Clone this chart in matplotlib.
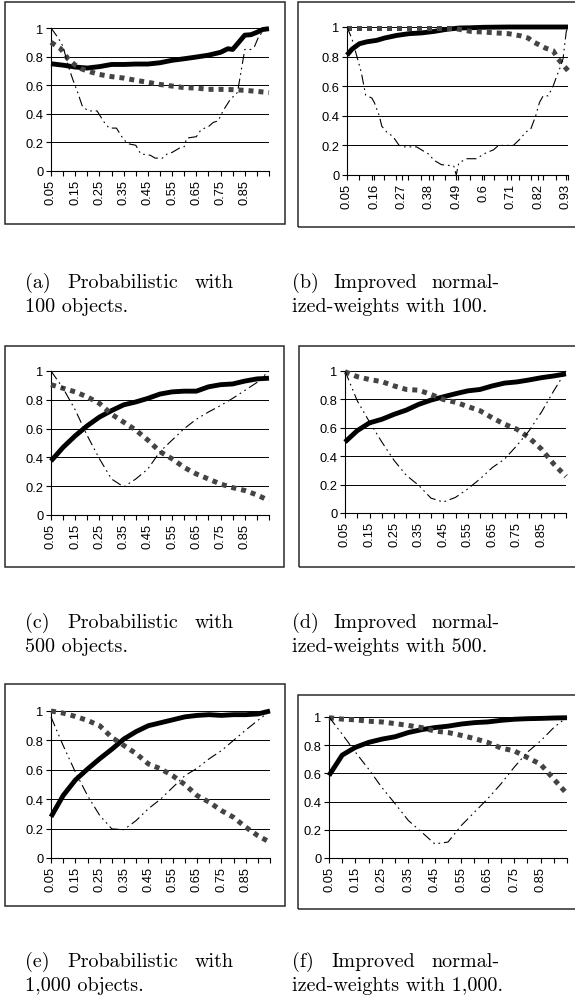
import matplotlib
matplotlib.use("Agg")
import matplotlib.pyplot as plt
from matplotlib.patches import Rectangle
import numpy as np

plt.rcParams['font.family'] = ['Liberation Sans', 'DejaVu Sans']

# ---------------- data ----------------
Y_TICKS = [0, 0.2, 0.4, 0.6, 0.8, 1.0]
Y_LABELS = ["0", "0.2", "0.4", "0.6", "0.8", "1"]

X_MAJOR_STD = [0.05, 0.15, 0.25, 0.35, 0.45, 0.55, 0.65, 0.75, 0.85]
X_LABELS_STD = ["0.05", "0.15", "0.25", "0.35", "0.45", "0.55", "0.65", "0.75", "0.85"]
X_MINOR_STD = [0.05, 0.10, 0.15, 0.20, 0.25, 0.30, 0.35, 0.40, 0.45, 0.50,
               0.55, 0.60, 0.65, 0.70, 0.75, 0.80, 0.85, 0.90, 0.95]

X_MAJOR_B = [0.05, 0.16, 0.27, 0.38, 0.49, 0.60, 0.71, 0.82, 0.93]
X_LABELS_B = ["0.05", "0.16", "0.27", "0.38", "0.49", "0.6", "0.71", "0.82", "0.93"]

X_STD = [0.05, 0.10, 0.15, 0.20, 0.25, 0.30, 0.35, 0.40, 0.45, 0.50,
         0.55, 0.60, 0.65, 0.70, 0.75, 0.80, 0.85, 0.90, 0.95]

# (a) Probabilistic, 100 objects
a_solid_x = [0.05, 0.10, 0.15, 0.20, 0.25, 0.30, 0.35, 0.40, 0.45, 0.50, 0.55, 0.60,
             0.65, 0.70, 0.75, 0.78, 0.80, 0.825, 0.85, 0.875, 0.90, 0.925, 0.95]
a_solid_y = [0.75, 0.74, 0.727, 0.72, 0.73, 0.745, 0.745, 0.748, 0.748, 0.757, 0.774, 0.785,
             0.797, 0.81, 0.83, 0.855, 0.85, 0.90, 0.95, 0.953, 0.97, 0.99, 0.995]
a_gray_x = [0.05, 0.09, 0.12, 0.15, 0.175, 0.20, 0.25, 0.30, 0.35, 0.40, 0.45, 0.50,
            0.55, 0.60, 0.65, 0.70, 0.75, 0.80, 0.85, 0.90, 0.95]
a_gray_y = [0.90, 0.855, 0.785, 0.74, 0.715, 0.70, 0.675, 0.66, 0.65, 0.634, 0.62, 0.605,
            0.594, 0.583, 0.58, 0.571, 0.571, 0.569, 0.564, 0.557, 0.548]
a_dd_x = [0.05, 0.08, 0.10, 0.12, 0.14, 0.16, 0.18, 0.205, 0.24, 0.27, 0.29, 0.32, 0.35,
          0.37, 0.40, 0.42, 0.46, 0.48, 0.51, 0.53, 0.55, 0.58, 0.60, 0.61, 0.65, 0.67,
          0.70, 0.72, 0.74, 0.76, 0.79, 0.82, 0.835, 0.85, 0.875, 0.89, 0.91, 0.95]
a_dd_y = [1.0, 0.93, 0.87, 0.74, 0.64, 0.55, 0.45, 0.42, 0.42, 0.34, 0.30, 0.30, 0.22,
          0.19, 0.18, 0.12, 0.11, 0.09, 0.09, 0.12, 0.13, 0.16, 0.17, 0.23, 0.24, 0.29,
          0.31, 0.34, 0.35, 0.42, 0.50, 0.55, 0.70, 0.85, 0.85, 0.87, 0.95, 1.0]

# (b) Improved normalized-weights, 100 objects
b_solid_x = [0.05, 0.07, 0.10, 0.13, 0.17, 0.20, 0.25, 0.30, 0.35, 0.40, 0.45, 0.50,
             0.55, 0.60, 0.70, 0.80, 0.94]
b_solid_y = [0.81, 0.85, 0.887, 0.90, 0.91, 0.925, 0.943, 0.955, 0.96, 0.97, 0.984, 0.993,
             0.995, 0.998, 1.0, 1.0, 1.0]
b_gray_x = [0.05, 0.10, 0.20, 0.30, 0.40, 0.48, 0.50, 0.55, 0.60, 0.65, 0.70, 0.75,
            0.78, 0.80, 0.85, 0.88, 0.90, 0.94]
b_gray_y = [0.99, 0.99, 0.99, 0.99, 0.99, 0.99, 0.985, 0.97, 0.966, 0.96, 0.955, 0.94,
            0.925, 0.90, 0.857, 0.84, 0.785, 0.705]
b_dd_x = [0.05, 0.07, 0.09, 0.108, 0.125, 0.15, 0.16, 0.18, 0.19, 0.21, 0.235, 0.26,
          0.28, 0.33, 0.36, 0.38, 0.40, 0.43, 0.46, 0.48, 0.49, 0.50, 0.53, 0.57, 0.61,
          0.64, 0.66, 0.72, 0.745, 0.77, 0.79, 0.81, 0.825, 0.84, 0.86, 0.88, 0.895,
          0.905, 0.92, 0.933, 0.94]
b_dd_y = [1.0, 0.92, 0.80, 0.69, 0.54, 0.52, 0.49, 0.40, 0.33, 0.29, 0.26, 0.20,
          0.19, 0.19, 0.16, 0.14, 0.10, 0.07, 0.065, 0.06, 0.0, 0.08, 0.11, 0.11, 0.15,
          0.17, 0.20, 0.20, 0.24, 0.29, 0.31, 0.40, 0.49, 0.535, 0.535, 0.60, 0.67,
          0.71, 0.785, 0.97, 1.0]

# (c) Probabilistic, 500 objects
c_solid = [0.375, 0.47, 0.55, 0.62, 0.68, 0.725, 0.765, 0.785, 0.81, 0.84,
           0.855, 0.86, 0.86, 0.89, 0.905, 0.91, 0.93, 0.945, 0.95]
c_gray = [0.905, 0.88, 0.855, 0.82, 0.775, 0.70, 0.645, 0.59, 0.52, 0.44,
          0.39, 0.33, 0.285, 0.25, 0.215, 0.19, 0.17, 0.14, 0.10]
c_dd = [1.0, 0.88, 0.73, 0.55, 0.39, 0.25, 0.195, 0.25, 0.32, 0.44,
        0.52, 0.60, 0.665, 0.715, 0.76, 0.81, 0.865, 0.92, 1.0]

# (d) Improved normalized-weights, 500 objects
d_solid = [0.50, 0.58, 0.635, 0.66, 0.695, 0.725, 0.765, 0.795, 0.818, 0.84,
           0.86, 0.87, 0.895, 0.915, 0.923, 0.937, 0.953, 0.965, 0.98]
d_gray = [0.995, 0.96, 0.94, 0.925, 0.895, 0.87, 0.865, 0.835, 0.80, 0.78,
          0.75, 0.72, 0.67, 0.625, 0.59, 0.53, 0.45, 0.345, 0.257]
d_dd = [1.0, 0.79, 0.64, 0.50, 0.37, 0.265, 0.195, 0.105, 0.077, 0.11,
        0.17, 0.24, 0.32, 0.38, 0.475, 0.58, 0.71, 0.86, 1.0]

# (e) Probabilistic, 1,000 objects
e_solid = [0.28, 0.425, 0.53, 0.605, 0.675, 0.74, 0.81, 0.86, 0.90, 0.92,
           0.94, 0.96, 0.97, 0.975, 0.97, 0.975, 0.975, 0.98, 1.0]
e_gray = [1.0, 0.986, 0.963, 0.936, 0.90, 0.82, 0.765, 0.71, 0.64, 0.607,
          0.56, 0.50, 0.425, 0.38, 0.323, 0.277, 0.21, 0.152, 0.107]
e_dd = [0.96, 0.765, 0.585, 0.425, 0.29, 0.198, 0.193, 0.255, 0.335, 0.40,
        0.48, 0.56, 0.61, 0.675, 0.73, 0.80, 0.87, 0.936, 1.0]

# (f) Improved normalized-weights, 1,000 objects
f_solid = [0.585, 0.73, 0.785, 0.82, 0.843, 0.86, 0.89, 0.91, 0.925, 0.935,
           0.95, 0.96, 0.965, 0.976, 0.984, 0.988, 0.99, 0.993, 0.995]
f_gray = [0.995, 0.985, 0.98, 0.97, 0.965, 0.953, 0.94, 0.925, 0.90, 0.89,
          0.87, 0.847, 0.82, 0.78, 0.76, 0.713, 0.665, 0.56, 0.455]
f_dd = [1.0, 0.878, 0.75, 0.63, 0.50, 0.385, 0.266, 0.184, 0.10, 0.113,
        0.23, 0.325, 0.42, 0.525, 0.643, 0.75, 0.83, 0.925, 1.0]

CAPTIONS = [
    ("(a)", "Probabilistic", "with", "100 objects."),
    ("(b)", "Improved", "normal-", "ized-weights with 100."),
    ("(c)", "Probabilistic", "with", "500 objects."),
    ("(d)", "Improved", "normal-", "ized-weights with 500."),
    ("(e)", "Probabilistic", "with", "1,000 objects."),
    ("(f)", "Improved", "normal-", "ized-weights with 1,000."),
]

# ---------------- layout ----------------
W, H = 575, 1003
fig = plt.figure(figsize=(W / 100, H / 100), dpi=100)

def fx(px):
    return px / W

def fy(py):
    return 1 - py / H

def make_ax(x0, x1, y0, y1):
    return fig.add_axes([fx(x0), fy(y1), fx(x1 - x0), (y1 - y0) / H])

def box(x0, y0, x1, y1):
    fig.patches.append(Rectangle((fx(x0), fy(y1)), fx(x1 - x0), (y1 - y0) / H,
                                 transform=fig.transFigure, fill=False,
                                 edgecolor='#2a2a2a', lw=1.1))

def style(ax, xmax, majors, labels, minors):
    ax.set_xlim(0.05, xmax)
    ax.set_ylim(0, 1)
    ax.set_yticks(Y_TICKS)
    ax.set_yticklabels(Y_LABELS)
    ax.set_xticks(majors)
    ax.set_xticklabels(labels, rotation=90)
    ax.set_xticks(minors, minor=True)
    for s in ['top', 'right']:
        ax.spines[s].set_visible(False)
    for s in ['left', 'bottom']:
        ax.spines[s].set_linewidth(0.8)
        ax.spines[s].set_color('black')
    ax.yaxis.grid(True, color='black', lw=0.7)
    ax.set_axisbelow(True)
    ax.tick_params(axis='both', which='both', direction='out', length=3.5,
                   width=0.8, labelsize=9.3, pad=2, colors='black')
    ax.patch.set_alpha(0)

def draw(ax, sx, sy, gx, gy, dx, dy):
    ax.plot(sx, sy, color='black', lw=3.5, solid_capstyle='butt', clip_on=False, zorder=3)
    ax.plot(gx, gy, color='#444444', lw=3.6, linestyle=(0, (1.0, 1.0)),
            dash_capstyle='butt', clip_on=False, zorder=4)
    ax.plot(dx, dy, color='black', lw=0.8, linestyle=(0, (9, 3.5, 1.5, 3.5, 1.5, 3.5)),
            clip_on=False, zorder=5)

# boxes
box(5, 3, 285, 225)
box(298, 3, 580, 228)
box(5, 347, 284, 568)
box(299, 347, 580, 568)
box(5, 685, 285, 907)
box(298, 696, 580, 910)

axa = make_ax(51, 269, 29, 172)
style(axa, 0.95, X_MAJOR_STD, X_LABELS_STD, X_MINOR_STD)
draw(axa, a_solid_x, a_solid_y, a_gray_x, a_gray_y, a_dd_x, a_dd_y)

axb = make_ax(347, 568, 28, 176)
style(axb, 0.94, X_MAJOR_B, X_LABELS_B, list(np.linspace(0.05, 0.94, 19)))
draw(axb, b_solid_x, b_solid_y, b_gray_x, b_gray_y, b_dd_x, b_dd_y)

axc = make_ax(51, 269, 372, 516)
style(axc, 0.95, X_MAJOR_STD, X_LABELS_STD, X_MINOR_STD)
draw(axc, X_STD, c_solid, X_STD, c_gray, X_STD, c_dd)

axd = make_ax(345, 566, 372, 514)
style(axd, 0.95, X_MAJOR_STD, X_LABELS_STD, X_MINOR_STD)
draw(axd, X_STD, d_solid, X_STD, d_gray, X_STD, d_dd)

axe = make_ax(51, 270, 712, 859)
style(axe, 0.95, X_MAJOR_STD, X_LABELS_STD, X_MINOR_STD)
draw(axe, X_STD, e_solid, X_STD, e_gray, X_STD, e_dd)

axf = make_ax(329, 567, 718, 859)
style(axf, 0.95, X_MAJOR_STD, X_LABELS_STD, X_MINOR_STD)
draw(axf, X_STD, f_solid, X_STD, f_gray, X_STD, f_dd)

# captions (justified first line)
cap_pos = [(25, 234, 283), (292, 500, 283), (25, 234, 623), (292, 500, 623),
           (25, 234, 962), (292, 500, 962)]
r = fig.canvas.get_renderer()
for (w1, w2, w3, line2), (x0, x1, yy) in zip(CAPTIONS, cap_pos):
    kw = dict(fontsize=14.5, family='cmr10', va='center', transform=fig.transFigure)
    t1 = fig.text(fx(x0), fy(yy), w1, ha='left', **kw)
    t3 = fig.text(fx(x1), fy(yy), w3, ha='right', **kw)
    b1 = t1.get_window_extent(r)
    b3 = t3.get_window_extent(r)
    mid = (b1.x1 + b3.x0) / 2 / W
    fig.text(mid, fy(yy), w2, ha='center', **kw)
    fig.text(fx(x0), fy(yy + 24), line2, ha='left', **kw)

fig.savefig('out.png', dpi=100)
